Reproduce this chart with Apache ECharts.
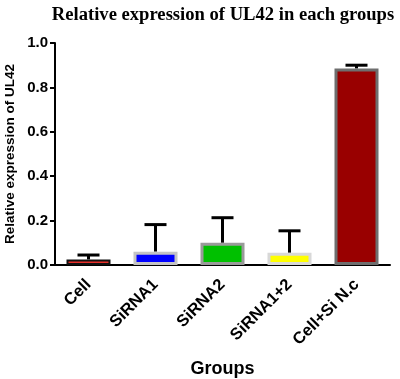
<!DOCTYPE html>
<html><head><meta charset="utf-8">
<script src="https://cdn.jsdelivr.net/npm/echarts@6/dist/echarts.min.js"></script>
<style>html,body{margin:0;padding:0;background:#fff}#c{width:400px;height:379px}</style>
</head><body><div id="c"></div>
<script>
var categories = ['Cell', 'SiRNA1', 'SiRNA2', 'SiRNA1+2', 'Cell+Si N.c'];
var means = [0.025, 0.06, 0.10, 0.055, 0.885];
var upperErr = [0.045, 0.182, 0.213, 0.154, 0.90];
var fillColors = ['#e8302a', '#0000ff', '#00c000', '#ffff00', '#990000'];
var borderColors = ['#111111', '#c4c4c4', '#9a9a9a', '#d8d8d8', '#6e6e6e'];
var borderWidths = [2, 3, 3, 3, 3];
var yTicks = [0, 0.2, 0.4, 0.6, 0.8, 1.0];

var chart = echarts.init(document.getElementById('c'), null, {renderer: 'canvas'});
var barData = means.map(function (v, i) {
  return {value: v, itemStyle: {color: fillColors[i], borderColor: borderColors[i], borderWidth: borderWidths[i]}};
});
var errData = means.map(function (v, i) { return [i, v, upperErr[i]]; });
var FONT = 'Liberation Sans, Arial, sans-serif';
chart.setOption({
  animation: false,
  title: {
    text: 'Relative expression of UL42 in each groups',
    left: 218, top: 1, textAlign: 'center',
    textStyle: {fontFamily: 'Liberation Serif, Times New Roman, serif', fontWeight: 'bold', fontSize: 18.6, color: '#000'}
  },
  grid: {left: 55, right: 10, top: 43, bottom: 114, containLabel: false, outerBoundsMode: 'none'},
  xAxis: {
    type: 'category', data: categories,
    name: 'Groups', nameLocation: 'middle', nameGap: 95, nameMoveOverlap: false,
    nameTextStyle: {fontFamily: FONT, fontWeight: 'bold', fontSize: 18, color: '#000'},
    axisLine: {lineStyle: {color: '#000', width: 2}},
    axisTick: {alignWithLabel: true, length: 5, lineStyle: {color: '#000', width: 2}},
    axisLabel: {rotate: 45, margin: 17, fontFamily: FONT, fontWeight: 'bold', fontSize: 16.5, color: '#000', interval: 0}
  },
  yAxis: {
    type: 'value', min: 0, max: 1.0, interval: 0.2,
    name: 'Relative expression of UL42', nameLocation: 'middle', nameGap: 38, nameRotate: 90, nameMoveOverlap: false,
    nameTextStyle: {fontFamily: FONT, fontWeight: 'bold', fontSize: 13.5, color: '#000'},
    axisLine: {show: true, lineStyle: {color: '#000', width: 2}},
    axisTick: {show: true, length: 5, lineStyle: {color: '#000', width: 2}},
    axisLabel: {margin: 7, fontFamily: FONT, fontWeight: 'bold', fontSize: 15, color: '#000',
      formatter: function (v) { return v.toFixed(1); }},
    splitLine: {show: false}
  },
  series: [
    {type: 'bar', data: barData, barWidth: 44, z: 2},
    {type: 'custom', z: 1,
      renderItem: function (params, api) {
        var x = api.value(0);
        var lo = api.coord([x, api.value(1)]);
        var hi = api.coord([x, api.value(2)]);
        var hw = 11;
        return {type: 'group', children: [
          {type: 'line', shape: {x1: lo[0], y1: lo[1], x2: hi[0], y2: hi[1]}, style: {stroke: '#000', lineWidth: 3}},
          {type: 'line', shape: {x1: hi[0] - hw, y1: hi[1], x2: hi[0] + hw, y2: hi[1]}, style: {stroke: '#000', lineWidth: 3}}
        ]};
      },
      data: errData}
  ]
});
</script></body></html>
